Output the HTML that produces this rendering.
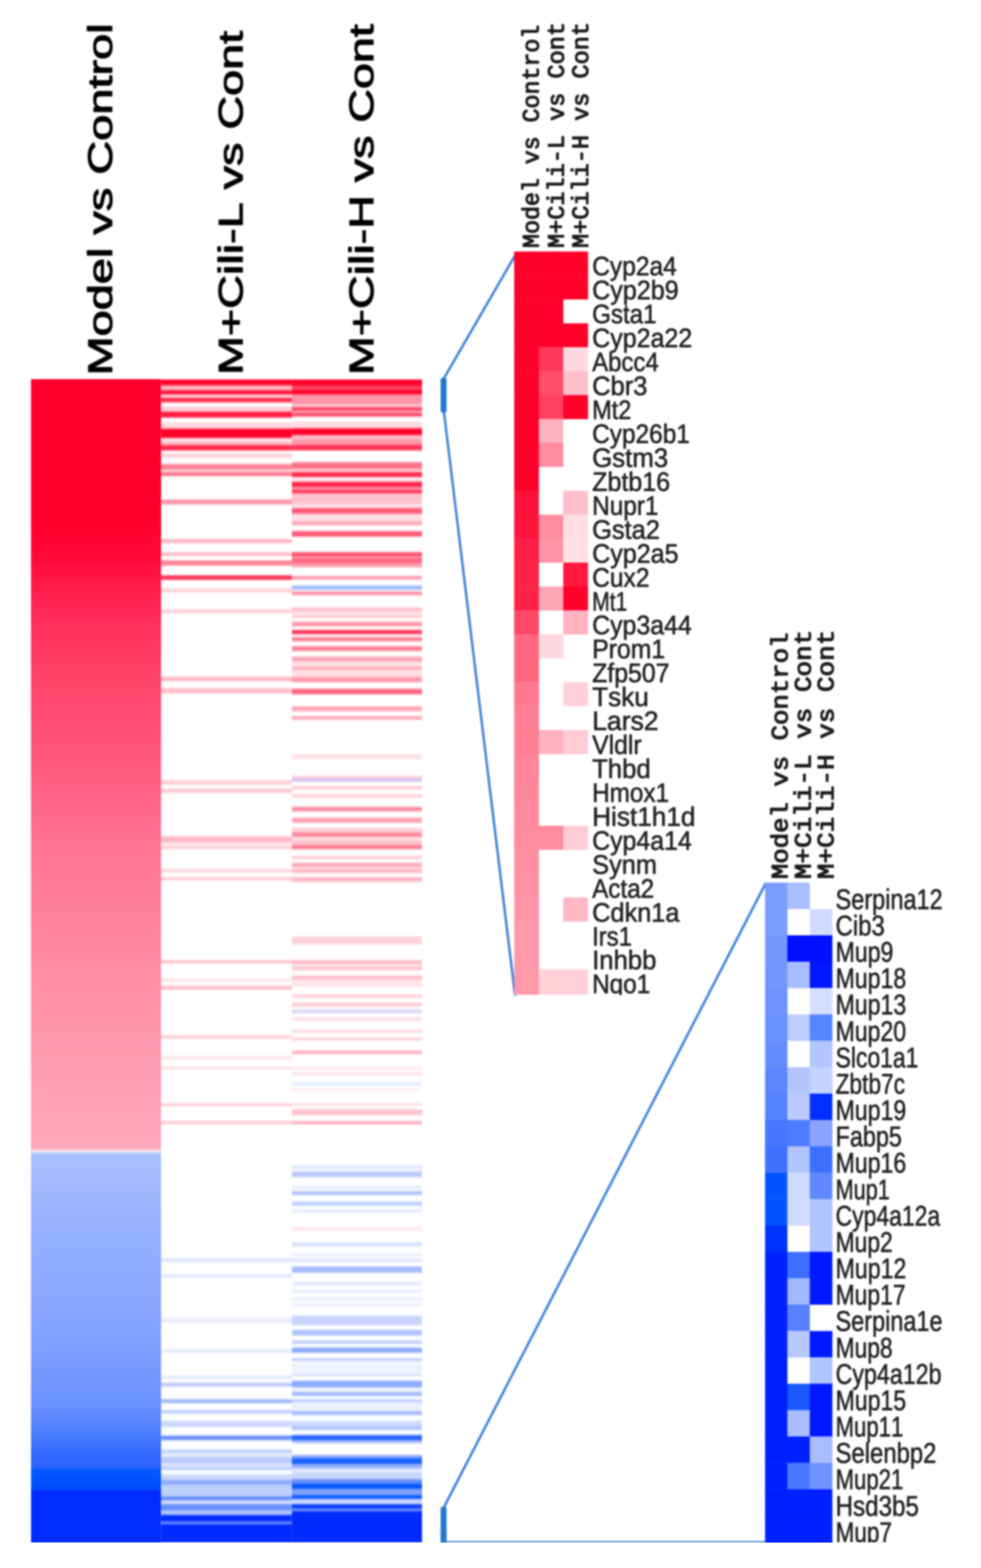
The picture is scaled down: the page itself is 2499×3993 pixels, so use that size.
<!DOCTYPE html>
<html lang="en"><head><meta charset="utf-8"><title>Heatmap: Model vs Control, M+Cili-L vs Cont, M+Cili-H vs Cont</title>
<style>html,body{margin:0;padding:0;background:#fff}body{width:2499px;height:3993px;overflow:hidden}svg{display:block}text{font-kerning:none;text-rendering:geometricPrecision}.s{font-family:"Liberation Sans",Arial,Helvetica,sans-serif}.m{font-family:"Liberation Mono","Courier New",Courier,monospace}</style></head><body>
<svg width="2499" height="3993" viewBox="0 0 2499 3993">
<defs>
<filter id="b" filterUnits="userSpaceOnUse" x="0" y="0" width="2499" height="3993" color-interpolation-filters="sRGB"><feGaussianBlur stdDeviation="2"/></filter>
<filter id="b1" filterUnits="userSpaceOnUse" x="-20" y="3900" width="2540" height="120" color-interpolation-filters="sRGB"><feGaussianBlur stdDeviation="0.9"/></filter>
<linearGradient id="g1" gradientUnits="userSpaceOnUse" x1="0" y1="965.5" x2="0" y2="3929">
<stop offset="0.00000" stop-color="#FF002B"/>
<stop offset="0.12367" stop-color="#FF002B"/>
<stop offset="0.15168" stop-color="#FF0838"/>
<stop offset="0.17969" stop-color="#FF1C4B"/>
<stop offset="0.20769" stop-color="#FF2D59"/>
<stop offset="0.24954" stop-color="#FF4068"/>
<stop offset="0.29138" stop-color="#FF4C72"/>
<stop offset="0.33322" stop-color="#FF5A7E"/>
<stop offset="0.39126" stop-color="#FF7090"/>
<stop offset="0.44728" stop-color="#FF7E9A"/>
<stop offset="0.50329" stop-color="#FF8AA4"/>
<stop offset="0.55897" stop-color="#FF96AC"/>
<stop offset="0.61498" stop-color="#FFA0B4"/>
<stop offset="0.65682" stop-color="#FFA6B9"/>
<stop offset="0.66121" stop-color="#FFACBE"/>
<stop offset="0.66239" stop-color="#FFD2DC"/>
<stop offset="0.66340" stop-color="#F6E6F2"/>
<stop offset="0.66425" stop-color="#D6E4FF"/>
<stop offset="0.66543" stop-color="#B6CCFF"/>
<stop offset="0.66695" stop-color="#A8BEFF"/>
<stop offset="0.67302" stop-color="#AABEFF"/>
<stop offset="0.72870" stop-color="#96B0FF"/>
<stop offset="0.78471" stop-color="#8CA8FF"/>
<stop offset="0.84073" stop-color="#7C9CFF"/>
<stop offset="0.88257" stop-color="#6890FF"/>
<stop offset="0.90349" stop-color="#5080FF"/>
<stop offset="0.92441" stop-color="#3068FF"/>
<stop offset="0.93521" stop-color="#2A64FF"/>
<stop offset="0.93757" stop-color="#005AFF"/>
<stop offset="0.95343" stop-color="#004CFF"/>
<stop offset="0.95613" stop-color="#002CFF"/>
<stop offset="0.99933" stop-color="#002CFF"/>
</linearGradient>
<filter id="bv" filterUnits="userSpaceOnUse" x="400" y="900" width="700" height="3093" color-interpolation-filters="sRGB"><feGaussianBlur stdDeviation="0 2"/></filter>
<clipPath id="cb"><rect x="410.3" y="965.5" width="664.7" height="2963.5"/></clipPath>
<clipPath id="c1"><rect x="1300" y="600" width="1199" height="1934"/></clipPath>
<clipPath id="c2"><rect x="1100" y="1500" width="1399" height="2430"/></clipPath>
</defs>
<rect width="2499" height="3993" fill="#fff"/>
<g filter="url(#b)">
<rect x="79" y="965.5" width="331.3" height="2963.5" fill="url(#g1)"/>
<g clip-path="url(#cb)">
<g filter="url(#bv)">
<rect x="410.3" y="965.5" width="333.2" height="16.0" fill="#FF002A"/>
<rect x="410.3" y="981.5" width="333.2" height="12.4" fill="#FFB2BF"/>
<rect x="410.3" y="993.9" width="333.2" height="10.8" fill="#FF0D35"/>
<rect x="410.3" y="1004.7" width="333.2" height="8.3" fill="#FFD9DF"/>
<rect x="410.3" y="1012.9" width="333.2" height="11.6" fill="#FF264A"/>
<rect x="410.3" y="1036.1" width="333.2" height="12.4" fill="#FFCCD4"/>
<rect x="410.3" y="1048.5" width="333.2" height="14.9" fill="#FF193F"/>
<rect x="410.3" y="1075.9" width="333.2" height="15.7" fill="#FFD9DF"/>
<rect x="410.3" y="1091.6" width="333.2" height="24.0" fill="#FF002A"/>
<rect x="410.3" y="1115.6" width="333.2" height="9.9" fill="#FFE6EA"/>
<rect x="410.3" y="1125.5" width="333.2" height="8.3" fill="#FFB2BF"/>
<rect x="410.3" y="1133.8" width="333.2" height="13.2" fill="#FF264A"/>
<rect x="410.3" y="1155.3" width="333.2" height="10.8" fill="#FFD1D9"/>
<rect x="410.3" y="1181.8" width="333.2" height="13.2" fill="#FF8094"/>
<rect x="410.3" y="1195.1" width="333.2" height="7.5" fill="#FFCCD4"/>
<rect x="410.3" y="1202.5" width="333.2" height="9.9" fill="#FF738A"/>
<rect x="410.3" y="1272.1" width="333.2" height="12.4" fill="#FF94A6"/>
<rect x="410.3" y="1373.1" width="333.2" height="9.9" fill="#FFB2BF"/>
<rect x="410.3" y="1406.3" width="333.2" height="9.1" fill="#FFB8C3"/>
<rect x="410.3" y="1427.0" width="333.2" height="13.2" fill="#FF8094"/>
<rect x="410.3" y="1465.0" width="333.2" height="11.6" fill="#FF3355"/>
<rect x="410.3" y="1499.0" width="333.2" height="9.1" fill="#FFCCD4"/>
<rect x="410.3" y="1552.0" width="333.2" height="9.1" fill="#FFCCD4"/>
<rect x="410.3" y="1723.3" width="333.2" height="10.8" fill="#FFB2BF"/>
<rect x="410.3" y="1752.4" width="333.2" height="13.2" fill="#FFBFCA"/>
<rect x="410.3" y="1987.5" width="333.2" height="9.9" fill="#FFC7D0"/>
<rect x="410.3" y="2008.2" width="333.2" height="10.8" fill="#FFC7D0"/>
<rect x="410.3" y="2130.0" width="333.2" height="15.7" fill="#FFB8C3"/>
<rect x="410.3" y="2145.7" width="333.2" height="9.1" fill="#FFEBEE"/>
<rect x="410.3" y="2154.8" width="333.2" height="7.5" fill="#FFCCD4"/>
<rect x="410.3" y="2212.7" width="333.2" height="9.1" fill="#FFD9DF"/>
<rect x="410.3" y="2233.4" width="333.2" height="8.3" fill="#FFCCD4"/>
<rect x="410.3" y="2445.4" width="333.2" height="8.3" fill="#FFBFCA"/>
<rect x="410.3" y="2492.5" width="333.2" height="7.5" fill="#FFE0E5"/>
<rect x="410.3" y="2509.9" width="333.2" height="10.8" fill="#FFBFCA"/>
<rect x="410.3" y="2636.7" width="333.2" height="8.3" fill="#FFCCD4"/>
<rect x="410.3" y="2689.7" width="333.2" height="7.5" fill="#FFE0E5"/>
<rect x="410.3" y="2716.2" width="333.2" height="7.5" fill="#FFDEE3"/>
<rect x="410.3" y="2809.7" width="333.2" height="7.5" fill="#FFCCD4"/>
<rect x="410.3" y="2854.4" width="333.2" height="8.3" fill="#FFCCD4"/>
<rect x="410.3" y="3203.8" width="333.2" height="10.8" fill="#DEE6FF"/>
<rect x="410.3" y="3244.4" width="333.2" height="9.1" fill="#E0E8FF"/>
<rect x="410.3" y="3356.3" width="333.2" height="11.6" fill="#E6ECFF"/>
<rect x="410.3" y="3436.6" width="333.2" height="7.5" fill="#E0E8FF"/>
<rect x="410.3" y="3502.8" width="333.2" height="8.3" fill="#E0E8FF"/>
<rect x="410.3" y="3521.0" width="333.2" height="9.9" fill="#B8CAFF"/>
<rect x="410.3" y="3563.2" width="333.2" height="9.9" fill="#9EB7FF"/>
<rect x="410.3" y="3590.5" width="333.2" height="9.1" fill="#BFD0FF"/>
<rect x="410.3" y="3617.8" width="333.2" height="16.6" fill="#CCD9FF"/>
<rect x="410.3" y="3655.9" width="333.2" height="11.6" fill="#668DFF"/>
<rect x="410.3" y="3691.5" width="333.2" height="9.1" fill="#BFD0FF"/>
<rect x="410.3" y="3700.6" width="333.2" height="9.9" fill="#E6ECFF"/>
<rect x="410.3" y="3710.5" width="333.2" height="16.6" fill="#B8CAFF"/>
<rect x="410.3" y="3727.1" width="333.2" height="8.3" fill="#E0E8FF"/>
<rect x="410.3" y="3735.4" width="333.2" height="8.3" fill="#B8CAFF"/>
<rect x="410.3" y="3754.4" width="333.2" height="14.1" fill="#CCD9FF"/>
<rect x="410.3" y="3768.5" width="333.2" height="12.4" fill="#8CAAFF"/>
<rect x="410.3" y="3780.9" width="333.2" height="29.8" fill="#BFD0FF"/>
<rect x="410.3" y="3810.7" width="333.2" height="9.9" fill="#6189FF"/>
<rect x="410.3" y="3820.6" width="333.2" height="9.9" fill="#D1DDFF"/>
<rect x="410.3" y="3830.6" width="333.2" height="15.7" fill="#668DFF"/>
<rect x="410.3" y="3846.3" width="333.2" height="11.6" fill="#B2C6FF"/>
<rect x="410.3" y="3857.9" width="333.2" height="16.6" fill="#002BFF"/>
<rect x="410.3" y="3874.5" width="333.2" height="7.5" fill="#6189FF"/>
<rect x="410.3" y="3881.9" width="333.2" height="47.1" fill="#002BFF"/>
</g>
<g filter="url(#bv)">
<rect x="743.5" y="965.5" width="331.5" height="16.8" fill="#FF002A"/>
<rect x="743.5" y="982.3" width="331.5" height="10.8" fill="#FF405F"/>
<rect x="743.5" y="993.1" width="331.5" height="11.6" fill="#FF002A"/>
<rect x="743.5" y="1004.7" width="331.5" height="24.8" fill="#FF94A6"/>
<rect x="743.5" y="1029.5" width="331.5" height="7.5" fill="#FFC7D0"/>
<rect x="743.5" y="1037.0" width="331.5" height="9.1" fill="#FF405F"/>
<rect x="743.5" y="1046.1" width="331.5" height="5.0" fill="#FFB2BF"/>
<rect x="743.5" y="1051.0" width="331.5" height="9.9" fill="#FF4D6A"/>
<rect x="743.5" y="1074.2" width="331.5" height="16.6" fill="#FFDBE1"/>
<rect x="743.5" y="1090.8" width="331.5" height="17.4" fill="#FF002A"/>
<rect x="743.5" y="1108.1" width="331.5" height="9.9" fill="#FFBFCA"/>
<rect x="743.5" y="1118.1" width="331.5" height="14.9" fill="#FF99AA"/>
<rect x="743.5" y="1133.0" width="331.5" height="14.1" fill="#FF3355"/>
<rect x="743.5" y="1176.9" width="331.5" height="17.4" fill="#FF738A"/>
<rect x="743.5" y="1194.2" width="331.5" height="8.3" fill="#FFCCD4"/>
<rect x="743.5" y="1202.5" width="331.5" height="12.4" fill="#FF264A"/>
<rect x="743.5" y="1214.9" width="331.5" height="11.6" fill="#FFF2F4"/>
<rect x="743.5" y="1226.5" width="331.5" height="14.1" fill="#FF264A"/>
<rect x="743.5" y="1240.6" width="331.5" height="6.6" fill="#FF99AA"/>
<rect x="743.5" y="1247.2" width="331.5" height="9.1" fill="#FF3355"/>
<rect x="743.5" y="1256.3" width="331.5" height="28.1" fill="#FFC2CC"/>
<rect x="743.5" y="1284.5" width="331.5" height="9.1" fill="#FFE6EA"/>
<rect x="743.5" y="1293.6" width="331.5" height="14.9" fill="#FF5975"/>
<rect x="743.5" y="1308.5" width="331.5" height="19.0" fill="#FFDEE3"/>
<rect x="743.5" y="1327.5" width="331.5" height="9.9" fill="#FFA6B4"/>
<rect x="743.5" y="1352.5" width="331.5" height="14.1" fill="#FF5975"/>
<rect x="743.5" y="1406.3" width="331.5" height="9.9" fill="#FF4D6A"/>
<rect x="743.5" y="1416.2" width="331.5" height="6.6" fill="#FF8C9F"/>
<rect x="743.5" y="1422.8" width="331.5" height="11.6" fill="#FF667F"/>
<rect x="743.5" y="1434.4" width="331.5" height="9.9" fill="#FF99AA"/>
<rect x="743.5" y="1466.7" width="331.5" height="9.1" fill="#FF99AA"/>
<rect x="743.5" y="1491.5" width="331.5" height="9.9" fill="#99B3FF"/>
<rect x="743.5" y="1506.4" width="331.5" height="9.1" fill="#FF8C9F"/>
<rect x="743.5" y="1547.0" width="331.5" height="10.8" fill="#FFBFCA"/>
<rect x="743.5" y="1557.7" width="331.5" height="8.3" fill="#FFE6EA"/>
<rect x="743.5" y="1566.0" width="331.5" height="8.3" fill="#FFCCD4"/>
<rect x="743.5" y="1583.4" width="331.5" height="11.6" fill="#FF94A6"/>
<rect x="743.5" y="1604.1" width="331.5" height="10.8" fill="#FF3355"/>
<rect x="743.5" y="1622.3" width="331.5" height="10.8" fill="#FF8094"/>
<rect x="743.5" y="1645.5" width="331.5" height="12.4" fill="#FF8094"/>
<rect x="743.5" y="1672.0" width="331.5" height="12.4" fill="#FFA6B4"/>
<rect x="743.5" y="1684.4" width="331.5" height="13.2" fill="#FFE0E5"/>
<rect x="743.5" y="1697.6" width="331.5" height="9.1" fill="#FFB2BF"/>
<rect x="743.5" y="1706.8" width="331.5" height="17.4" fill="#FFE0E5"/>
<rect x="743.5" y="1724.1" width="331.5" height="13.2" fill="#FF99AA"/>
<rect x="743.5" y="1754.0" width="331.5" height="14.1" fill="#FF667F"/>
<rect x="743.5" y="1798.7" width="331.5" height="12.4" fill="#FFA6B4"/>
<rect x="743.5" y="1823.6" width="331.5" height="9.1" fill="#FFA6B4"/>
<rect x="743.5" y="1921.3" width="331.5" height="11.6" fill="#FFDEE3"/>
<rect x="743.5" y="1975.9" width="331.5" height="5.8" fill="#FFCCD4"/>
<rect x="743.5" y="1981.7" width="331.5" height="9.1" fill="#D2C4F0"/>
<rect x="743.5" y="2001.6" width="331.5" height="8.3" fill="#FFC7D0"/>
<rect x="743.5" y="2022.3" width="331.5" height="9.1" fill="#FFD1D9"/>
<rect x="743.5" y="2054.5" width="331.5" height="11.6" fill="#FF8C9F"/>
<rect x="743.5" y="2082.7" width="331.5" height="12.4" fill="#FF9EAE"/>
<rect x="743.5" y="2108.3" width="331.5" height="10.8" fill="#FFCCD4"/>
<rect x="743.5" y="2119.9" width="331.5" height="12.4" fill="#FF8094"/>
<rect x="743.5" y="2125.0" width="331.5" height="5.0" fill="#FF8094"/>
<rect x="743.5" y="2130.0" width="331.5" height="11.6" fill="#FFD9DF"/>
<rect x="743.5" y="2141.6" width="331.5" height="11.6" fill="#FFBFCA"/>
<rect x="743.5" y="2153.1" width="331.5" height="9.1" fill="#FF738A"/>
<rect x="743.5" y="2179.6" width="331.5" height="8.3" fill="#FFCCD4"/>
<rect x="743.5" y="2197.0" width="331.5" height="9.9" fill="#FFA6B4"/>
<rect x="743.5" y="2207.0" width="331.5" height="7.5" fill="#FFD9DF"/>
<rect x="743.5" y="2214.4" width="331.5" height="8.3" fill="#FFB2BF"/>
<rect x="743.5" y="2233.4" width="331.5" height="12.4" fill="#FFB8C3"/>
<rect x="743.5" y="2384.9" width="331.5" height="19.9" fill="#FFD1D9"/>
<rect x="743.5" y="2445.4" width="331.5" height="9.1" fill="#FFB8C3"/>
<rect x="743.5" y="2454.5" width="331.5" height="8.3" fill="#FFE6EA"/>
<rect x="743.5" y="2462.7" width="331.5" height="7.5" fill="#FFBFCA"/>
<rect x="743.5" y="2484.3" width="331.5" height="10.8" fill="#FFBFCA"/>
<rect x="743.5" y="2495.0" width="331.5" height="18.2" fill="#FFE6EA"/>
<rect x="743.5" y="2532.4" width="331.5" height="9.1" fill="#FFD1D9"/>
<rect x="743.5" y="2553.9" width="331.5" height="9.1" fill="#FFC7D0"/>
<rect x="743.5" y="2570.5" width="331.5" height="9.9" fill="#DDD6F5"/>
<rect x="743.5" y="2591.2" width="331.5" height="7.5" fill="#FFD9DF"/>
<rect x="743.5" y="2621.8" width="331.5" height="8.3" fill="#FFD9DF"/>
<rect x="743.5" y="2641.7" width="331.5" height="8.3" fill="#FFD4DB"/>
<rect x="743.5" y="2675.6" width="331.5" height="9.1" fill="#FFB2BF"/>
<rect x="743.5" y="2717.0" width="331.5" height="6.6" fill="#FFE6EA"/>
<rect x="743.5" y="2730.2" width="331.5" height="7.5" fill="#FFE0E5"/>
<rect x="743.5" y="2755.9" width="331.5" height="8.3" fill="#E0E8FF"/>
<rect x="743.5" y="2770.8" width="331.5" height="6.6" fill="#FFEBEE"/>
<rect x="743.5" y="2808.9" width="331.5" height="7.5" fill="#FFDEE3"/>
<rect x="743.5" y="2824.6" width="331.5" height="14.9" fill="#FFC2CC"/>
<rect x="743.5" y="2854.4" width="331.5" height="9.1" fill="#FFB2BF"/>
<rect x="743.5" y="2967.1" width="331.5" height="9.1" fill="#DEE6FF"/>
<rect x="743.5" y="2982.8" width="331.5" height="14.9" fill="#B8CAFF"/>
<rect x="743.5" y="3019.2" width="331.5" height="8.3" fill="#E6ECFF"/>
<rect x="743.5" y="3033.3" width="331.5" height="9.9" fill="#ADC2FF"/>
<rect x="743.5" y="3059.8" width="331.5" height="10.8" fill="#BFD0FF"/>
<rect x="743.5" y="3078.8" width="331.5" height="9.1" fill="#E6ECFF"/>
<rect x="743.5" y="3124.4" width="331.5" height="9.9" fill="#FFE6EA"/>
<rect x="743.5" y="3164.1" width="331.5" height="9.9" fill="#D4DFFF"/>
<rect x="743.5" y="3191.4" width="331.5" height="7.5" fill="#E6ECFF"/>
<rect x="743.5" y="3204.7" width="331.5" height="9.9" fill="#E0E8FF"/>
<rect x="743.5" y="3225.4" width="331.5" height="15.7" fill="#A6BCFF"/>
<rect x="743.5" y="3264.3" width="331.5" height="9.1" fill="#E0E8FF"/>
<rect x="743.5" y="3284.1" width="331.5" height="8.3" fill="#E6ECFF"/>
<rect x="743.5" y="3304.1" width="331.5" height="7.5" fill="#E6ECFF"/>
<rect x="743.5" y="3318.2" width="331.5" height="8.3" fill="#EDF2FF"/>
<rect x="743.5" y="3350.5" width="331.5" height="24.0" fill="#C7D5FF"/>
<rect x="743.5" y="3386.9" width="331.5" height="14.1" fill="#ADC2FF"/>
<rect x="743.5" y="3413.4" width="331.5" height="9.1" fill="#BFD0FF"/>
<rect x="743.5" y="3431.6" width="331.5" height="13.2" fill="#8CAAFF"/>
<rect x="743.5" y="3458.1" width="331.5" height="9.1" fill="#C7D5FF"/>
<rect x="743.5" y="3473.0" width="331.5" height="20.7" fill="#EDF2FF"/>
<rect x="743.5" y="3497.0" width="331.5" height="7.5" fill="#D9E2FF"/>
<rect x="743.5" y="3516.0" width="331.5" height="17.4" fill="#8CAAFF"/>
<rect x="743.5" y="3538.4" width="331.5" height="5.8" fill="#E6ECFF"/>
<rect x="743.5" y="3545.0" width="331.5" height="9.9" fill="#9EB7FF"/>
<rect x="743.5" y="3563.2" width="331.5" height="8.3" fill="#BFD0FF"/>
<rect x="743.5" y="3571.5" width="331.5" height="19.9" fill="#EBF0FF"/>
<rect x="743.5" y="3593.0" width="331.5" height="10.8" fill="#A6BCFF"/>
<rect x="743.5" y="3617.8" width="331.5" height="13.2" fill="#D1DDFF"/>
<rect x="743.5" y="3631.1" width="331.5" height="10.8" fill="#B2C6FF"/>
<rect x="743.5" y="3654.3" width="331.5" height="14.1" fill="#2662FF"/>
<rect x="743.5" y="3668.3" width="331.5" height="7.5" fill="#B2C6FF"/>
<rect x="743.5" y="3705.6" width="331.5" height="8.3" fill="#80A0FF"/>
<rect x="743.5" y="3713.9" width="331.5" height="14.1" fill="#195EFF"/>
<rect x="743.5" y="3727.9" width="331.5" height="11.6" fill="#94AFFF"/>
<rect x="743.5" y="3739.5" width="331.5" height="10.8" fill="#E0E8FF"/>
<rect x="743.5" y="3750.3" width="331.5" height="16.6" fill="#C7D5FF"/>
<rect x="743.5" y="3766.8" width="331.5" height="11.6" fill="#668DFF"/>
<rect x="743.5" y="3778.4" width="331.5" height="13.2" fill="#0055FF"/>
<rect x="743.5" y="3791.7" width="331.5" height="15.7" fill="#80A0FF"/>
<rect x="743.5" y="3807.4" width="331.5" height="9.9" fill="#0055FF"/>
<rect x="743.5" y="3817.3" width="331.5" height="13.2" fill="#CCD9FF"/>
<rect x="743.5" y="3830.6" width="331.5" height="10.8" fill="#0039FF"/>
<rect x="743.5" y="3841.3" width="331.5" height="7.5" fill="#668DFF"/>
<rect x="743.5" y="3848.8" width="331.5" height="80.2" fill="#002BFF"/>
</g>
</g>
<g fill="none" stroke="#3F82D8" stroke-width="6.2" stroke-linecap="round">
<line x1="1130" y1="965" x2="1310.8" y2="652.5"/>
<line x1="1131" y1="1050" x2="1311.8" y2="2533"/>
<line x1="1130" y1="3840" x2="1949.9" y2="2250.5"/>
</g>
<line x1="1130" y1="3926.5" x2="1950.9" y2="3926.5" stroke="#3F82D8" stroke-width="4"/>
<rect x="1122.5" y="962" width="15" height="89" rx="5" fill="#2277D2"/>
<rect x="1122.5" y="3837" width="15" height="90" rx="5" fill="#2277D2"/>
<rect x="1122.5" y="3900" width="15" height="30" fill="#2277D2"/>
<text class="s" transform="translate(285.0,956.1) rotate(-90) scale(1.3814,1)" font-size="86.5" font-weight="normal" fill="#000" stroke="#000" stroke-width="2.5" stroke-linejoin="round">Model vs Control</text>
<text class="s" transform="translate(617.5,955.0) rotate(-90) scale(1.3762,1)" font-size="86.5" font-weight="normal" fill="#000" stroke="#000" stroke-width="2.5" stroke-linejoin="round">M+Cili-L vs Cont</text>
<text class="s" transform="translate(950.5,955.0) rotate(-90) scale(1.3718,1)" font-size="86.5" font-weight="normal" fill="#000" stroke="#000" stroke-width="2.5" stroke-linejoin="round">M+Cili-H vs Cont</text>
<text class="m" transform="translate(1372.0,631.4) rotate(-90) scale(0.9867,1)" font-size="60" font-weight="normal" fill="#1a1a1a" stroke="#1a1a1a" stroke-width="2.6" stroke-linejoin="round">Model vs Control</text>
<text class="m" transform="translate(1435.5,631.5) rotate(-90) scale(0.9987,1)" font-size="60" font-weight="normal" fill="#1a1a1a" stroke="#1a1a1a" stroke-width="2.6" stroke-linejoin="round">M+Cili-L vs Cont</text>
<text class="m" transform="translate(1498.0,631.5) rotate(-90) scale(0.9987,1)" font-size="60" font-weight="normal" fill="#1a1a1a" stroke="#1a1a1a" stroke-width="2.6" stroke-linejoin="round">M+Cili-H vs Cont</text>
<text class="m" transform="translate(2006.0,2238.7) rotate(-90) scale(1.0899,1)" font-size="60" font-weight="normal" fill="#1a1a1a" stroke="#1a1a1a" stroke-width="2.6" stroke-linejoin="round">Model vs Control</text>
<text class="m" transform="translate(2064.5,2238.7) rotate(-90) scale(1.1025,1)" font-size="60" font-weight="normal" fill="#1a1a1a" stroke="#1a1a1a" stroke-width="2.6" stroke-linejoin="round">M+Cili-L vs Cont</text>
<text class="m" transform="translate(2123.0,2238.7) rotate(-90) scale(1.1025,1)" font-size="60" font-weight="normal" fill="#1a1a1a" stroke="#1a1a1a" stroke-width="2.6" stroke-linejoin="round">M+Cili-H vs Cont</text>
<g clip-path="url(#c1)">
<rect x="1309.8" y="640.50" width="63.2" height="61.23" fill="#FF002A"/>
<rect x="1372.7" y="640.50" width="62.4" height="61.23" fill="#FF002A"/>
<rect x="1434.8" y="640.50" width="63.2" height="61.23" fill="#FF002A"/>
<rect x="1309.8" y="701.43" width="63.2" height="61.23" fill="#FF002A"/>
<rect x="1372.7" y="701.43" width="62.4" height="61.23" fill="#FF002A"/>
<rect x="1434.8" y="701.43" width="63.2" height="61.23" fill="#FF002A"/>
<rect x="1309.8" y="762.36" width="63.2" height="61.23" fill="#FF002A"/>
<rect x="1372.7" y="762.36" width="62.4" height="61.23" fill="#FF002A"/>
<rect x="1309.8" y="823.29" width="63.2" height="61.23" fill="#FF002A"/>
<rect x="1372.7" y="823.29" width="62.4" height="61.23" fill="#FF002A"/>
<rect x="1434.8" y="823.29" width="63.2" height="61.23" fill="#FF002A"/>
<rect x="1309.8" y="884.22" width="63.2" height="61.23" fill="#FF002A"/>
<rect x="1372.7" y="884.22" width="62.4" height="61.23" fill="#FF3859"/>
<rect x="1434.8" y="884.22" width="63.2" height="61.23" fill="#FFD9DF"/>
<rect x="1309.8" y="945.15" width="63.2" height="61.23" fill="#FF002A"/>
<rect x="1372.7" y="945.15" width="62.4" height="61.23" fill="#FF4D6A"/>
<rect x="1434.8" y="945.15" width="63.2" height="61.23" fill="#FFBFCA"/>
<rect x="1309.8" y="1006.08" width="63.2" height="61.23" fill="#FF002A"/>
<rect x="1372.7" y="1006.08" width="62.4" height="61.23" fill="#FF405F"/>
<rect x="1434.8" y="1006.08" width="63.2" height="61.23" fill="#FF002A"/>
<rect x="1309.8" y="1067.01" width="63.2" height="61.23" fill="#FF002A"/>
<rect x="1372.7" y="1067.01" width="62.4" height="61.23" fill="#FFB2BF"/>
<rect x="1309.8" y="1127.94" width="63.2" height="61.23" fill="#FF002A"/>
<rect x="1372.7" y="1127.94" width="62.4" height="61.23" fill="#FF8C9F"/>
<rect x="1309.8" y="1188.87" width="63.2" height="61.23" fill="#FF002A"/>
<rect x="1309.8" y="1249.80" width="63.2" height="61.23" fill="#FF1239"/>
<rect x="1434.8" y="1249.80" width="63.2" height="61.23" fill="#FFBFCA"/>
<rect x="1309.8" y="1310.73" width="63.2" height="61.23" fill="#FF143B"/>
<rect x="1372.7" y="1310.73" width="62.4" height="61.23" fill="#FF8C9F"/>
<rect x="1434.8" y="1310.73" width="63.2" height="61.23" fill="#FFDEE3"/>
<rect x="1309.8" y="1371.66" width="63.2" height="61.23" fill="#FF1F44"/>
<rect x="1372.7" y="1371.66" width="62.4" height="61.23" fill="#FF94A6"/>
<rect x="1434.8" y="1371.66" width="63.2" height="61.23" fill="#FFE0E5"/>
<rect x="1309.8" y="1432.59" width="63.2" height="61.23" fill="#FF2146"/>
<rect x="1434.8" y="1432.59" width="63.2" height="61.23" fill="#FF193F"/>
<rect x="1309.8" y="1493.52" width="63.2" height="61.23" fill="#FF2146"/>
<rect x="1372.7" y="1493.52" width="62.4" height="61.23" fill="#FFA6B4"/>
<rect x="1434.8" y="1493.52" width="63.2" height="61.23" fill="#FF002A"/>
<rect x="1309.8" y="1554.45" width="63.2" height="61.23" fill="#FF4766"/>
<rect x="1434.8" y="1554.45" width="63.2" height="61.23" fill="#FFB2BF"/>
<rect x="1309.8" y="1615.38" width="63.2" height="61.23" fill="#FF667F"/>
<rect x="1372.7" y="1615.38" width="62.4" height="61.23" fill="#FFD9DF"/>
<rect x="1309.8" y="1676.31" width="63.2" height="61.23" fill="#FF667F"/>
<rect x="1309.8" y="1737.24" width="63.2" height="61.23" fill="#FF7A90"/>
<rect x="1434.8" y="1737.24" width="63.2" height="61.23" fill="#FFD1D9"/>
<rect x="1309.8" y="1798.17" width="63.2" height="61.23" fill="#FF8094"/>
<rect x="1309.8" y="1859.10" width="63.2" height="61.23" fill="#FF8094"/>
<rect x="1372.7" y="1859.10" width="62.4" height="61.23" fill="#FFB2BF"/>
<rect x="1434.8" y="1859.10" width="63.2" height="61.23" fill="#FFCCD4"/>
<rect x="1309.8" y="1920.03" width="63.2" height="61.23" fill="#FF8599"/>
<rect x="1309.8" y="1980.96" width="63.2" height="61.23" fill="#FF879B"/>
<rect x="1309.8" y="2041.89" width="63.2" height="61.23" fill="#FF8A9D"/>
<rect x="1309.8" y="2102.82" width="63.2" height="61.23" fill="#FF8C9F"/>
<rect x="1372.7" y="2102.82" width="62.4" height="61.23" fill="#FF8C9F"/>
<rect x="1434.8" y="2102.82" width="63.2" height="61.23" fill="#FFCCD4"/>
<rect x="1309.8" y="2163.75" width="63.2" height="61.23" fill="#FF8FA1"/>
<rect x="1309.8" y="2224.68" width="63.2" height="61.23" fill="#FF91A3"/>
<rect x="1309.8" y="2285.61" width="63.2" height="61.23" fill="#FF94A6"/>
<rect x="1434.8" y="2285.61" width="63.2" height="61.23" fill="#FFB8C3"/>
<rect x="1309.8" y="2346.54" width="63.2" height="61.23" fill="#FF99AA"/>
<rect x="1309.8" y="2407.47" width="63.2" height="61.23" fill="#FF99AA"/>
<rect x="1309.8" y="2468.40" width="63.2" height="64.93" fill="#FF99AA"/>
<rect x="1372.7" y="2468.40" width="62.4" height="64.93" fill="#FFD1D9"/>
<rect x="1434.8" y="2468.40" width="63.2" height="64.93" fill="#FFD1D9"/>
<text class="s" transform="translate(1508.4,701.4) scale(0.9204,1)" font-size="68" fill="#222222" stroke="#222222" stroke-width="1.4" stroke-linejoin="round">Cyp2a4</text>
<text class="s" transform="translate(1508.4,762.4) scale(0.9405,1)" font-size="68" fill="#222222" stroke="#222222" stroke-width="1.4" stroke-linejoin="round">Cyp2b9</text>
<text class="s" transform="translate(1508.4,823.3) scale(0.9034,1)" font-size="68" fill="#222222" stroke="#222222" stroke-width="1.4" stroke-linejoin="round">Gsta1</text>
<text class="s" transform="translate(1508.4,884.2) scale(0.9372,1)" font-size="68" fill="#222222" stroke="#222222" stroke-width="1.4" stroke-linejoin="round">Cyp2a22</text>
<text class="s" transform="translate(1508.4,945.1) scale(0.8979,1)" font-size="68" fill="#222222" stroke="#222222" stroke-width="1.4" stroke-linejoin="round">Abcc4</text>
<text class="s" transform="translate(1508.4,1006.1) scale(0.9550,1)" font-size="68" fill="#222222" stroke="#222222" stroke-width="1.4" stroke-linejoin="round">Cbr3</text>
<text class="s" transform="translate(1508.4,1067.0) scale(0.8814,1)" font-size="68" fill="#222222" stroke="#222222" stroke-width="1.4" stroke-linejoin="round">Mt2</text>
<text class="s" transform="translate(1508.4,1127.9) scale(0.9145,1)" font-size="68" fill="#222222" stroke="#222222" stroke-width="1.4" stroke-linejoin="round">Cyp26b1</text>
<text class="s" transform="translate(1508.4,1188.9) scale(0.9678,1)" font-size="68" fill="#222222" stroke="#222222" stroke-width="1.4" stroke-linejoin="round">Gstm3</text>
<text class="s" transform="translate(1508.4,1249.8) scale(0.9386,1)" font-size="68" fill="#222222" stroke="#222222" stroke-width="1.4" stroke-linejoin="round">Zbtb16</text>
<text class="s" transform="translate(1508.4,1310.7) scale(0.9121,1)" font-size="68" fill="#222222" stroke="#222222" stroke-width="1.4" stroke-linejoin="round">Nupr1</text>
<text class="s" transform="translate(1508.4,1371.7) scale(0.9517,1)" font-size="68" fill="#222222" stroke="#222222" stroke-width="1.4" stroke-linejoin="round">Gsta2</text>
<text class="s" transform="translate(1508.4,1432.6) scale(0.9390,1)" font-size="68" fill="#222222" stroke="#222222" stroke-width="1.4" stroke-linejoin="round">Cyp2a5</text>
<text class="s" transform="translate(1508.4,1493.5) scale(0.9200,1)" font-size="68" fill="#222222" stroke="#222222" stroke-width="1.4" stroke-linejoin="round">Cux2</text>
<text class="s" transform="translate(1508.4,1554.5) scale(0.7897,1)" font-size="68" fill="#222222" stroke="#222222" stroke-width="1.4" stroke-linejoin="round">Mt1</text>
<text class="s" transform="translate(1508.4,1615.4) scale(0.9322,1)" font-size="68" fill="#222222" stroke="#222222" stroke-width="1.4" stroke-linejoin="round">Cyp3a44</text>
<text class="s" transform="translate(1508.4,1676.3) scale(0.9286,1)" font-size="68" fill="#222222" stroke="#222222" stroke-width="1.4" stroke-linejoin="round">Prom1</text>
<text class="s" transform="translate(1508.4,1737.2) scale(0.9309,1)" font-size="68" fill="#222222" stroke="#222222" stroke-width="1.4" stroke-linejoin="round">Zfp507</text>
<text class="s" transform="translate(1508.4,1798.2) scale(0.9794,1)" font-size="68" fill="#222222" stroke="#222222" stroke-width="1.4" stroke-linejoin="round">Tsku</text>
<text class="s" transform="translate(1508.4,1859.1) scale(0.9953,1)" font-size="68" fill="#222222" stroke="#222222" stroke-width="1.4" stroke-linejoin="round">Lars2</text>
<text class="s" transform="translate(1508.4,1920.0) scale(0.9258,1)" font-size="68" fill="#222222" stroke="#222222" stroke-width="1.4" stroke-linejoin="round">Vldlr</text>
<text class="s" transform="translate(1508.4,1981.0) scale(0.9621,1)" font-size="68" fill="#222222" stroke="#222222" stroke-width="1.4" stroke-linejoin="round">Thbd</text>
<text class="s" transform="translate(1508.4,2041.9) scale(0.9096,1)" font-size="68" fill="#222222" stroke="#222222" stroke-width="1.4" stroke-linejoin="round">Hmox1</text>
<text class="s" transform="translate(1508.4,2102.8) scale(0.9807,1)" font-size="68" fill="#222222" stroke="#222222" stroke-width="1.4" stroke-linejoin="round">Hist1h1d</text>
<text class="s" transform="translate(1508.4,2163.8) scale(0.9322,1)" font-size="68" fill="#222222" stroke="#222222" stroke-width="1.4" stroke-linejoin="round">Cyp4a14</text>
<text class="s" transform="translate(1508.4,2224.7) scale(0.9502,1)" font-size="68" fill="#222222" stroke="#222222" stroke-width="1.4" stroke-linejoin="round">Synm</text>
<text class="s" transform="translate(1508.4,2285.6) scale(0.9087,1)" font-size="68" fill="#222222" stroke="#222222" stroke-width="1.4" stroke-linejoin="round">Acta2</text>
<text class="s" transform="translate(1508.4,2346.5) scale(0.9489,1)" font-size="68" fill="#222222" stroke="#222222" stroke-width="1.4" stroke-linejoin="round">Cdkn1a</text>
<text class="s" transform="translate(1508.4,2407.5) scale(0.8943,1)" font-size="68" fill="#222222" stroke="#222222" stroke-width="1.4" stroke-linejoin="round">Irs1</text>
<text class="s" transform="translate(1508.4,2468.4) scale(0.9617,1)" font-size="68" fill="#222222" stroke="#222222" stroke-width="1.4" stroke-linejoin="round">Inhbb</text>
<text class="s" transform="translate(1508.4,2529.3) scale(0.9099,1)" font-size="68" fill="#222222" stroke="#222222" stroke-width="1.4" stroke-linejoin="round">Nqo1</text>
</g>
<g clip-path="url(#c2)">
<rect x="1948.9" y="2247.50" width="57.1" height="67.47" fill="#7B9CFF"/>
<rect x="2005.7" y="2247.50" width="57.4" height="67.47" fill="#AABEFF"/>
<rect x="1948.9" y="2314.67" width="57.1" height="67.47" fill="#7B9CFF"/>
<rect x="2062.8" y="2314.67" width="57.7" height="67.47" fill="#D0DCFF"/>
<rect x="1948.9" y="2381.84" width="57.1" height="67.47" fill="#7698FF"/>
<rect x="2005.7" y="2381.84" width="57.4" height="67.47" fill="#0010FF"/>
<rect x="2062.8" y="2381.84" width="57.7" height="67.47" fill="#0010FF"/>
<rect x="1948.9" y="2449.01" width="57.1" height="67.47" fill="#7296FF"/>
<rect x="2005.7" y="2449.01" width="57.4" height="67.47" fill="#AABEFF"/>
<rect x="2062.8" y="2449.01" width="57.7" height="67.47" fill="#0018FF"/>
<rect x="1948.9" y="2516.18" width="57.1" height="67.47" fill="#6E92FF"/>
<rect x="2062.8" y="2516.18" width="57.7" height="67.47" fill="#D4DEFF"/>
<rect x="1948.9" y="2583.35" width="57.1" height="67.47" fill="#6890FF"/>
<rect x="2005.7" y="2583.35" width="57.4" height="67.47" fill="#BCCCFF"/>
<rect x="2062.8" y="2583.35" width="57.7" height="67.47" fill="#5585FF"/>
<rect x="1948.9" y="2650.52" width="57.1" height="67.47" fill="#648CFF"/>
<rect x="2062.8" y="2650.52" width="57.7" height="67.47" fill="#B4C6FF"/>
<rect x="1948.9" y="2717.69" width="57.1" height="67.47" fill="#5A86FF"/>
<rect x="2005.7" y="2717.69" width="57.4" height="67.47" fill="#B4C4FF"/>
<rect x="2062.8" y="2717.69" width="57.7" height="67.47" fill="#C4D2FF"/>
<rect x="1948.9" y="2784.86" width="57.1" height="67.47" fill="#5582FF"/>
<rect x="2005.7" y="2784.86" width="57.4" height="67.47" fill="#BCCAFF"/>
<rect x="2062.8" y="2784.86" width="57.7" height="67.47" fill="#0030FF"/>
<rect x="1948.9" y="2852.03" width="57.1" height="67.47" fill="#4676FF"/>
<rect x="2005.7" y="2852.03" width="57.4" height="67.47" fill="#4C7CFF"/>
<rect x="2062.8" y="2852.03" width="57.7" height="67.47" fill="#88A4FF"/>
<rect x="1948.9" y="2919.20" width="57.1" height="67.47" fill="#4070FF"/>
<rect x="2005.7" y="2919.20" width="57.4" height="67.47" fill="#B0C4FF"/>
<rect x="2062.8" y="2919.20" width="57.7" height="67.47" fill="#3D70FF"/>
<rect x="1948.9" y="2986.37" width="57.1" height="67.47" fill="#0055FF"/>
<rect x="2005.7" y="2986.37" width="57.4" height="67.47" fill="#D0DCFF"/>
<rect x="2062.8" y="2986.37" width="57.7" height="67.47" fill="#6088FF"/>
<rect x="1948.9" y="3053.54" width="57.1" height="67.47" fill="#0055FF"/>
<rect x="2005.7" y="3053.54" width="57.4" height="67.47" fill="#D0DCFF"/>
<rect x="2062.8" y="3053.54" width="57.7" height="67.47" fill="#B0C4FF"/>
<rect x="1948.9" y="3120.71" width="57.1" height="67.47" fill="#0033FF"/>
<rect x="2062.8" y="3120.71" width="57.7" height="67.47" fill="#B0C4FF"/>
<rect x="1948.9" y="3187.88" width="57.1" height="67.47" fill="#0022FF"/>
<rect x="2005.7" y="3187.88" width="57.4" height="67.47" fill="#3D70FF"/>
<rect x="2062.8" y="3187.88" width="57.7" height="67.47" fill="#0018FF"/>
<rect x="1948.9" y="3255.05" width="57.1" height="67.47" fill="#0020FF"/>
<rect x="2005.7" y="3255.05" width="57.4" height="67.47" fill="#A0B8FF"/>
<rect x="2062.8" y="3255.05" width="57.7" height="67.47" fill="#0018FF"/>
<rect x="1948.9" y="3322.22" width="57.1" height="67.47" fill="#0020FF"/>
<rect x="2005.7" y="3322.22" width="57.4" height="67.47" fill="#5580FF"/>
<rect x="1948.9" y="3389.39" width="57.1" height="67.47" fill="#0020FF"/>
<rect x="2005.7" y="3389.39" width="57.4" height="67.47" fill="#B8C8FF"/>
<rect x="2062.8" y="3389.39" width="57.7" height="67.47" fill="#0018FF"/>
<rect x="1948.9" y="3456.56" width="57.1" height="67.47" fill="#0020FF"/>
<rect x="2062.8" y="3456.56" width="57.7" height="67.47" fill="#B0C4FF"/>
<rect x="1948.9" y="3523.73" width="57.1" height="67.47" fill="#0020FF"/>
<rect x="2005.7" y="3523.73" width="57.4" height="67.47" fill="#1858FF"/>
<rect x="2062.8" y="3523.73" width="57.7" height="67.47" fill="#0018FF"/>
<rect x="1948.9" y="3590.90" width="57.1" height="67.47" fill="#0020FF"/>
<rect x="2005.7" y="3590.90" width="57.4" height="67.47" fill="#A8BCFF"/>
<rect x="2062.8" y="3590.90" width="57.7" height="67.47" fill="#0018FF"/>
<rect x="1948.9" y="3658.07" width="57.1" height="67.47" fill="#0020FF"/>
<rect x="2005.7" y="3658.07" width="57.4" height="67.47" fill="#0020FF"/>
<rect x="2062.8" y="3658.07" width="57.7" height="67.47" fill="#A8BCFF"/>
<rect x="1948.9" y="3725.24" width="57.1" height="67.47" fill="#0020FF"/>
<rect x="2005.7" y="3725.24" width="57.4" height="67.47" fill="#4878FF"/>
<rect x="2062.8" y="3725.24" width="57.7" height="67.47" fill="#7094FF"/>
<rect x="1948.9" y="3792.41" width="57.1" height="67.47" fill="#0020FF"/>
<rect x="2005.7" y="3792.41" width="57.4" height="67.47" fill="#0020FF"/>
<rect x="2062.8" y="3792.41" width="57.7" height="67.47" fill="#0020FF"/>
<rect x="1948.9" y="3859.58" width="57.1" height="71.17" fill="#0020FF"/>
<rect x="2005.7" y="3859.58" width="57.4" height="71.17" fill="#0020FF"/>
<rect x="2062.8" y="3859.58" width="57.7" height="71.17" fill="#0020FF"/>
<text class="s" transform="translate(2128.5,2314.7) scale(0.8254,1)" font-size="72.5" fill="#222222" stroke="#222222" stroke-width="1.4" stroke-linejoin="round">Serpina12</text>
<text class="s" transform="translate(2128.5,2381.8) scale(0.8416,1)" font-size="72.5" fill="#222222" stroke="#222222" stroke-width="1.4" stroke-linejoin="round">Cib3</text>
<text class="s" transform="translate(2128.5,2449.0) scale(0.8122,1)" font-size="72.5" fill="#222222" stroke="#222222" stroke-width="1.4" stroke-linejoin="round">Mup9</text>
<text class="s" transform="translate(2128.5,2516.2) scale(0.8113,1)" font-size="72.5" fill="#222222" stroke="#222222" stroke-width="1.4" stroke-linejoin="round">Mup18</text>
<text class="s" transform="translate(2128.5,2583.3) scale(0.8115,1)" font-size="72.5" fill="#222222" stroke="#222222" stroke-width="1.4" stroke-linejoin="round">Mup13</text>
<text class="s" transform="translate(2128.5,2650.5) scale(0.8102,1)" font-size="72.5" fill="#222222" stroke="#222222" stroke-width="1.4" stroke-linejoin="round">Mup20</text>
<text class="s" transform="translate(2128.5,2717.7) scale(0.8055,1)" font-size="72.5" fill="#222222" stroke="#222222" stroke-width="1.4" stroke-linejoin="round">Slco1a1</text>
<text class="s" transform="translate(2128.5,2784.9) scale(0.7987,1)" font-size="72.5" fill="#222222" stroke="#222222" stroke-width="1.4" stroke-linejoin="round">Zbtb7c</text>
<text class="s" transform="translate(2128.5,2852.0) scale(0.8124,1)" font-size="72.5" fill="#222222" stroke="#222222" stroke-width="1.4" stroke-linejoin="round">Mup19</text>
<text class="s" transform="translate(2128.5,2919.2) scale(0.8216,1)" font-size="72.5" fill="#222222" stroke="#222222" stroke-width="1.4" stroke-linejoin="round">Fabp5</text>
<text class="s" transform="translate(2128.5,2986.4) scale(0.8115,1)" font-size="72.5" fill="#222222" stroke="#222222" stroke-width="1.4" stroke-linejoin="round">Mup16</text>
<text class="s" transform="translate(2128.5,3053.5) scale(0.7620,1)" font-size="72.5" fill="#222222" stroke="#222222" stroke-width="1.4" stroke-linejoin="round">Mup1</text>
<text class="s" transform="translate(2128.5,3120.7) scale(0.8060,1)" font-size="72.5" fill="#222222" stroke="#222222" stroke-width="1.4" stroke-linejoin="round">Cyp4a12a</text>
<text class="s" transform="translate(2128.5,3187.9) scale(0.8036,1)" font-size="72.5" fill="#222222" stroke="#222222" stroke-width="1.4" stroke-linejoin="round">Mup2</text>
<text class="s" transform="translate(2128.5,3255.1) scale(0.8132,1)" font-size="72.5" fill="#222222" stroke="#222222" stroke-width="1.4" stroke-linejoin="round">Mup12</text>
<text class="s" transform="translate(2128.5,3322.2) scale(0.8049,1)" font-size="72.5" fill="#222222" stroke="#222222" stroke-width="1.4" stroke-linejoin="round">Mup17</text>
<text class="s" transform="translate(2128.5,3389.4) scale(0.8243,1)" font-size="72.5" fill="#222222" stroke="#222222" stroke-width="1.4" stroke-linejoin="round">Serpina1e</text>
<text class="s" transform="translate(2128.5,3456.6) scale(0.8013,1)" font-size="72.5" fill="#222222" stroke="#222222" stroke-width="1.4" stroke-linejoin="round">Mup8</text>
<text class="s" transform="translate(2128.5,3523.7) scale(0.8168,1)" font-size="72.5" fill="#222222" stroke="#222222" stroke-width="1.4" stroke-linejoin="round">Cyp4a12b</text>
<text class="s" transform="translate(2128.5,3590.9) scale(0.8109,1)" font-size="72.5" fill="#222222" stroke="#222222" stroke-width="1.4" stroke-linejoin="round">Mup15</text>
<text class="s" transform="translate(2128.5,3658.1) scale(0.7784,1)" font-size="72.5" fill="#222222" stroke="#222222" stroke-width="1.4" stroke-linejoin="round">Mup11</text>
<text class="s" transform="translate(2128.5,3725.2) scale(0.8383,1)" font-size="72.5" fill="#222222" stroke="#222222" stroke-width="1.4" stroke-linejoin="round">Selenbp2</text>
<text class="s" transform="translate(2128.5,3792.4) scale(0.7784,1)" font-size="72.5" fill="#222222" stroke="#222222" stroke-width="1.4" stroke-linejoin="round">Mup21</text>
<text class="s" transform="translate(2128.5,3859.6) scale(0.8499,1)" font-size="72.5" fill="#222222" stroke="#222222" stroke-width="1.4" stroke-linejoin="round">Hsd3b5</text>
<text class="s" transform="translate(2128.5,3926.8) scale(0.7923,1)" font-size="72.5" fill="#222222" stroke="#222222" stroke-width="1.4" stroke-linejoin="round">Mup7</text>
</g>
</g>
<rect x="-20" y="3928.6" width="2540" height="90" fill="#fff" filter="url(#b1)"/>
</svg></body></html>
